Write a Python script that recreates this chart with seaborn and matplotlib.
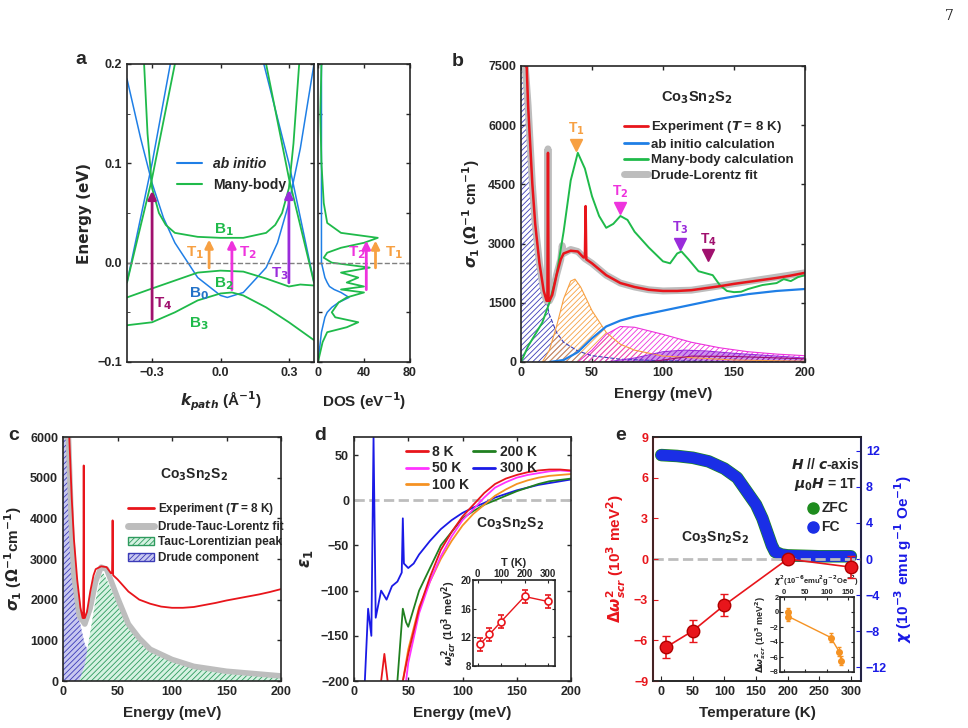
import numpy as np
import matplotlib
matplotlib.use("Agg")
import matplotlib.pyplot as plt
import seaborn as sns

sns.set_style("ticks")
plt.rcParams['font.family'] = ['Liberation Sans Narrow', 'Liberation Sans', 'DejaVu Sans']
plt.rcParams['font.weight'] = 'bold'
plt.rcParams['axes.labelweight'] = 'bold'
plt.rcParams['font.size'] = 9
plt.rcParams['hatch.linewidth'] = 0.6
plt.rcParams['axes.linewidth'] = 1.2
plt.rcParams['xtick.direction'] = 'in'
plt.rcParams['ytick.direction'] = 'in'

# ---------------- data: panel a ----------------
kB1 = [-0.335, -0.32, -0.3, -0.27, -0.24, -0.2, -0.1, 0.0, 0.1, 0.2, 0.24, 0.27, 0.3, 0.32, 0.345]
eB1 = [0.2, 0.13, 0.075, 0.05, 0.038, 0.03, 0.026, 0.025, 0.025, 0.03, 0.038, 0.05, 0.075, 0.12, 0.2]
kGL = [-0.41, -0.3, -0.2]
eGL = [-0.02, 0.085, 0.2]
kGR = [0.2, 0.3, 0.41]
eGR = [0.2, 0.085, -0.02]
kB2 = [-0.41, -0.3, -0.2, -0.1, 0.0, 0.1, 0.2, 0.3, 0.35, 0.41]
eB2 = [-0.035, -0.026, -0.018, -0.01, -0.008, -0.009, -0.016, -0.024, -0.022, -0.023]
kB3 = [-0.41, -0.3, -0.2, -0.1, 0.0, 0.05, 0.1, 0.2, 0.3, 0.41]
eB3 = [-0.063, -0.06, -0.05, -0.038, -0.031, -0.03, -0.033, -0.045, -0.06, -0.078]
kB0 = [-0.41, -0.35, -0.3, -0.25, -0.2, -0.1, 0.0, 0.03, 0.1, 0.2, 0.25, 0.3, 0.35, 0.41]
eB0 = [0.185, 0.125, 0.08, 0.045, 0.02, -0.015, -0.033, -0.035, -0.03, -0.005, 0.02, 0.06, 0.115, 0.2]
kBL = [-0.41, -0.3, -0.22]
eBL = [-0.02, 0.1, 0.2]
kBR = [0.19, 0.3, 0.41]
eBR = [0.2, 0.1, -0.02]
dos_E = [-0.1, -0.09, -0.08, -0.07, -0.065, -0.06, -0.055, -0.05, -0.045, -0.04, -0.035, -0.03, -0.027,
         -0.024, -0.02, -0.015, -0.01, -0.005, 0.0, 0.005, 0.01, 0.015, 0.02, 0.025, 0.03, 0.04, 0.06, 0.1, 0.15, 0.2]
dos_green = [0, 2, 4, 8, 25, 35, 15, 12, 15, 18, 25, 40, 20, 40, 25, 35, 20, 45, 12, 5, 8, 20, 40, 52, 20, 8, 5, 3, 2, 3]
dos_blue = [0, 1, 2, 3, 4, 5, 6, 8, 12, 18, 27, 20, 14, 10, 8, 6, 5, 4, 3, 3, 3, 3, 3, 3, 3, 3, 3, 3, 3, 3]

# ---------------- data: panel b/c ----------------
E_exp = [3, 4, 5, 8, 10, 13, 16, 18, 18.6, 19, 19.4, 20, 22, 25, 28, 30, 35, 40, 44, 45, 45.5, 46, 48, 50, 60, 70,
         80, 90, 100, 110, 120, 130, 140, 150, 160, 170, 180, 190, 200]
s_exp = [7500, 7500, 6500, 4500, 3500, 2500, 1800, 1550, 1550, 5300, 1550, 1550, 1700, 2200, 2600, 2750, 2820, 2800,
         2650, 2650, 3950, 2600, 2550, 2500, 2200, 2000, 1900, 1830, 1800, 1800, 1820, 1870, 1920, 1980, 2030, 2080,
         2130, 2190, 2260]
E_fit = [3, 5, 8, 10, 13, 16, 18, 18.6, 19, 19.4, 20, 22, 25, 28, 29, 30, 35, 40, 45, 50, 60, 70, 80, 90, 100,
         120, 140, 160, 180, 200]
s_fit = [7500, 6500, 4500, 3500, 2500, 1800, 1550, 1550, 5400, 1550, 1550, 1700, 2200, 2600, 2950, 2750, 2850, 2800,
         2620, 2500, 2200, 2000, 1900, 1830, 1800, 1820, 1930, 2040, 2150, 2260]
E_mb = [0, 5, 10, 15, 20, 25, 30, 35, 40, 45, 50, 55, 60, 65, 70, 75, 80, 90, 100, 105, 110, 113, 118, 125, 130,
        135, 140, 145, 150, 155, 160, 170, 180, 185, 190, 195, 200]
s_mb = [0, 400, 700, 1000, 1500, 2200, 3300, 4600, 5300, 4900, 4200, 3700, 3400, 3500, 3700, 3600, 3300, 2900,
        2550, 2500, 2750, 2800, 2600, 2300, 2250, 2200, 1950, 1800, 1770, 1780, 1850, 1950, 2000, 2100, 2050, 2150, 2200]
E_ai = [20, 30, 40, 50, 60, 70, 80, 100, 120, 140, 160, 180, 200]
s_ai = [0, 50, 250, 600, 900, 1050, 1150, 1300, 1450, 1600, 1720, 1800, 1850]
E_dr = [0, 3, 5, 8, 10, 15, 20, 25, 30, 40, 50, 70, 100, 150, 200]
s_dr = [7500, 7500, 6000, 4500, 3500, 2000, 1200, 750, 500, 280, 160, 70, 30, 10, 5]
E_l1 = [15, 20, 25, 30, 35, 38, 42, 50, 60, 70, 80, 100, 150, 200]
s_l1 = [0, 300, 900, 1600, 2050, 2100, 1900, 1300, 750, 450, 300, 150, 50, 20]
E_l2 = [40, 50, 60, 70, 80, 100, 120, 140, 160, 180, 200]
s_l2 = [0, 300, 700, 900, 880, 700, 500, 360, 260, 200, 160]
E_l3 = [60, 80, 100, 115, 130, 150, 180, 200]
s_l3 = [0, 100, 260, 300, 280, 220, 150, 100]
E_l4 = [90, 120, 150, 200]
s_l4 = [0, 150, 140, 80]
E_tl = [15, 20, 25, 30, 35, 37, 40, 50, 60, 70, 80, 100, 120, 150, 200]
s_tl = [0, 400, 1200, 2000, 2600, 2650, 2500, 1900, 1350, 1000, 750, 500, 350, 230, 120]
E_drc = [0, 3, 5, 8, 10, 15, 20, 30, 50, 100, 150, 200]
s_drc = [6000, 6000, 6000, 3500, 2500, 1500, 900, 450, 150, 30, 10, 5]
E_fitc = [3, 5, 8, 10, 15, 20, 25, 30, 35, 40, 50, 60, 70, 80, 100, 120, 150, 200]
s_fitc = [6000, 6000, 3600, 2600, 1600, 1400, 1800, 2450, 2800, 2750, 2050, 1400, 1050, 780, 530, 360, 240, 125]

# ---------------- data: panel d ----------------
E_8 = [25, 28, 31, 34, 45, 50, 60, 70, 80, 90, 100, 110, 120, 130, 140, 150, 160, 170, 180, 190, 200]
e_8 = [-200, -170, -200, np.nan, -200, -170, -120, -85, -55, -35, -18, -5, 8, 18, 24, 28, 31, 33, 34, 34, 33]
E_50 = [48, 50, 60, 70, 80, 90, 100, 110, 120, 130, 140, 150, 160, 170, 180, 190, 200]
e_50 = [-200, -180, -125, -90, -62, -40, -22, -10, 3, 14, 20, 25, 28, 30, 32, 33, 32]
E_100 = [45, 50, 60, 70, 80, 90, 100, 110, 120, 130, 140, 150, 160, 170, 180, 190, 200]
e_100 = [-200, -165, -118, -90, -65, -45, -28, -15, -5, 5, 12, 18, 22, 25, 27, 28, 29]
E_200 = [40, 45, 48, 50, 55, 60, 70, 80, 90, 100, 110, 120, 130, 140, 150, 160, 170, 180, 200]
e_200 = [-200, -120, -135, -140, -120, -100, -75, -50, -35, -20, -12, -5, 0, 5, 10, 14, 18, 21, 24]
E_300 = [10, 13, 16, 18, 20, 25, 30, 35, 40, 44, 45, 46, 50, 55, 60, 70, 80, 90, 100, 110, 120, 130, 140, 150,
         160, 170, 180, 190, 200]
e_300 = [-200, -120, -150, 70, -130, -100, -110, -95, -90, -80, -20, -70, -75, -70, -60, -45, -32, -22, -14, -8,
         -3, 3, 7, 11, 14, 17, 19, 21, 23]
T_ins = [8, 50, 100, 200, 300]
w_ins = [11, 12.4, 14.2, 17.7, 17]
w_err = [0.9, 0.9, 0.9, 0.9, 0.9]

# ---------------- data: panel e ----------------
T_e = [8, 50, 100, 200, 300]
dw_e = [-6.5, -5.3, -3.4, 0, -0.6]
dw_err = [0.8, 0.8, 0.8, 0.15, 0.8]
T_chi = [0, 25, 50, 75, 100, 120, 140, 150, 160, 170, 175, 180, 190, 200, 250, 300]
chi = [11.5, 11.4, 11.2, 10.8, 10, 9, 7, 6, 4.5, 2.5, 1.5, 0.8, 0.5, 0.4, 0.3, 0.3]
chi2_ins = [10, 10, 110, 130, 135]
dw_ins = [0, -0.6, -3.4, -5.3, -6.5]

RED, BLUE, GREEN, GRAY = '#e8151b', '#1f7fe6', '#1fba4a', '#bdbdbd'
ORANGE, MAG, PURP, DPURP = '#f7a042', '#ee33dd', '#9a2cdb', '#a0106e'

fig = plt.figure(figsize=(9.68, 7.28), dpi=100)


def ax_px(l, t, r, b):
    return fig.add_axes([l / 968, 1 - b / 728, (r - l) / 968, (b - t) / 728])


def line(ax, x, y, c, lw=1.4, **kw):
    sns.lineplot(x=x, y=y, ax=ax, color=c, lw=lw, estimator=None, sort=False, **kw)


def boxify(ax):
    ax.tick_params(top=True, right=True, labelsize=9, width=1, length=3)
    for s in ax.spines.values():
        s.set_visible(True)

# ---------------- panel a ----------------
a1 = ax_px(127, 64, 314, 362)
for kx, ey in [(kB0, eB0), (kBL, eBL), (kBR, eBR)]:
    line(a1, kx, ey, BLUE, lw=1.1)
for kx, ey in [(kB1, eB1), (kGL, eGL), (kGR, eGR), (kB2, eB2), (kB3, eB3)]:
    line(a1, kx, ey, GREEN, lw=1.3)
a1.axhline(0, color='gray', ls='--', lw=1)
for x, y0, y1, c in [(-0.3, -0.06, 0.075, DPURP), (-0.05, -0.008, 0.026, ORANGE),
                     (0.05, -0.03, 0.026, MAG), (0.3, -0.023, 0.076, PURP)]:
    a1.annotate('', xy=(x, y1), xytext=(x, y0),
                arrowprops=dict(arrowstyle='-|>', color=c, lw=2, mutation_scale=12))
for t, x, y, c in [('T$_1$', -0.15, 0.006, ORANGE), ('T$_2$', 0.08, 0.006, MAG), ('T$_3$', 0.22, -0.015, PURP),
                   ('T$_4$', -0.29, -0.045, DPURP), ('B$_1$', -0.03, 0.03, GREEN), ('B$_2$', -0.03, -0.025, GREEN),
                   ('B$_0$', -0.14, -0.035, '#2272c8'), ('B$_3$', -0.14, -0.065, GREEN)]:
    a1.text(x, y, t, color=c, fontsize=11, fontweight='bold')
a1.plot([], [], color=BLUE, lw=1.5, label='ab initio')
a1.plot([], [], color=GREEN, lw=1.5, label='Many-body')
leg = a1.legend(loc='upper left', bbox_to_anchor=(0.2, 0.73), frameon=False, fontsize=10, handlelength=1.8)
leg.get_texts()[0].set_style('italic')
a1.set_xlim(-0.41, 0.41)
a1.set_ylim(-0.1, 0.2)
a1.set_xticks([-0.3, 0.0, 0.3])
a1.set_yticks([-0.1, 0.0, 0.1, 0.2])
a1.set_yticks([-0.05, 0.05, 0.15], minor=True)
a1.set_xlabel('$\\boldsymbol{k_{path}}$ (Å$^{-1}$)', fontsize=11, labelpad=8)
a1.set_ylabel('Energy (eV)', fontsize=11, family='DejaVu Sans')
boxify(a1)

a2 = ax_px(318, 64, 410, 362)
line(a2, dos_blue, dos_E, BLUE, lw=1.1)
line(a2, dos_green, dos_E, GREEN, lw=1.3)
a2.axhline(0, color='gray', ls='--', lw=1)
for x, y0, y1, c in [(42, -0.03, 0.025, MAG), (50, -0.008, 0.025, ORANGE)]:
    a2.annotate('', xy=(x, y1), xytext=(x, y0),
                arrowprops=dict(arrowstyle='-|>', color=c, lw=2, mutation_scale=12))
a2.text(26, 0.006, 'T$_2$', color=MAG, fontsize=11, fontweight='bold')
a2.text(58, 0.006, 'T$_1$', color=ORANGE, fontsize=11, fontweight='bold')
a2.set_xlim(0, 80)
a2.set_ylim(-0.1, 0.2)
a2.set_xticks([0, 40, 80])
a2.set_yticks([-0.1, -0.05, 0, 0.05, 0.1, 0.15, 0.2])
a2.set_yticklabels([])
a2.set_xlabel('DOS (eV$^{-1}$)', fontsize=11, labelpad=8)
boxify(a2)
fig.text(75 / 968, 1 - 64 / 728, 'a', fontsize=14, fontweight='bold')

# ---------------- panel b ----------------
b = ax_px(521, 66, 805, 362)
for x, y, c in [(E_dr, s_dr, '#3b3bb8'), (E_l1, s_l1, ORANGE), (E_l2, s_l2, MAG), (E_l3, s_l3, PURP),
                (E_l4, s_l4, DPURP)]:
    b.fill_between(x, 0, y, facecolor='none', edgecolor=c, hatch='//////', lw=0)
    line(b, x, y, c, lw=0.8, ls='--' if c == '#3b3bb8' else '-')
b.fill_between(E_l3, 0, s_l3, color=PURP, alpha=0.5, lw=0)
line(b, E_fit, s_fit, GRAY, lw=5)
line(b, E_ai, s_ai, BLUE, lw=1.6)
line(b, E_mb, s_mb, GREEN, lw=1.4)
line(b, E_exp, s_exp, RED, lw=1.8)
for t, x, y, c in [('T$_1$', 39, 5500, ORANGE), ('T$_2$', 70, 3900, MAG), ('T$_3$', 112, 3000, PURP),
                   ('T$_4$', 132, 2700, DPURP)]:
    b.plot(x, y, marker='v', color=c, ms=8)
    b.text(x, y + 200, t, color=c, fontsize=10, ha='center', va='bottom', fontweight='bold')
b.plot([], [], color=RED, lw=2, label='Experiment ($\\boldsymbol{T}$ = 8 K)')
b.plot([], [], color=BLUE, lw=2, label='ab initio calculation')
b.plot([], [], color=GREEN, lw=2, label='Many-body calculation')
b.plot([], [], color=GRAY, lw=5, label='Drude-Lorentz fit')
leg = b.legend(loc='upper left', bbox_to_anchor=(0.32, 0.86), frameon=False, fontsize=9.5, handlelength=1.8,
               labelspacing=0.25, handletextpad=0.3)
b.text(0.62, 0.88, 'Co$_3$Sn$_2$S$_2$', transform=b.transAxes, fontsize=10.5, fontweight='bold', ha='center')
b.set_xlim(0, 200)
b.set_ylim(0, 7500)
b.set_xticks([0, 50, 100, 150, 200])
b.set_yticks([0, 1500, 3000, 4500, 6000, 7500])
b.set_xlabel('Energy (meV)', fontsize=11, labelpad=6)
b.set_ylabel('$\\sigma_1$ ($\\Omega^{-1}$ cm$^{-1}$)', fontsize=11)
boxify(b)
fig.text(452 / 968, 1 - 66 / 728, 'b', fontsize=14, fontweight='bold')

# ---------------- panel c ----------------
c = ax_px(63, 437, 281, 681)
c.fill_between(E_drc, 0, s_drc, facecolor='#c8c8f0', edgecolor='#3b3bb8', hatch='//////', lw=0)
c.fill_between(E_tl, 0, s_tl, facecolor='#d6f2e2', edgecolor='#2e9b5e', hatch='//////', lw=0)
line(c, E_fitc, s_fitc, GRAY, lw=4)
line(c, E_exp, s_exp, RED, lw=1.3)
c.plot([], [], color=RED, lw=2, label='Experiment ($\\boldsymbol{T}$ = 8 K)')
c.plot([], [], color=GRAY, lw=5, label='Drude-Tauc-Lorentz fit')
c.fill_between([], [], facecolor='#d6f2e2', edgecolor='#2e9b5e', hatch='//////', label='Tauc-Lorentizian peak')
c.fill_between([], [], facecolor='#c8c8f0', edgecolor='#3b3bb8', hatch='//////', label='Drude component')
c.legend(loc='upper left', bbox_to_anchor=(0.25, 0.78), frameon=False, fontsize=8.5, handlelength=2.2,
         labelspacing=0.3, handletextpad=0.3)
c.text(0.6, 0.83, 'Co$_3$Sn$_2$S$_2$', transform=c.transAxes, fontsize=10, fontweight='bold', ha='center')
c.set_xlim(0, 200)
c.set_ylim(0, 6000)
c.set_xticks([0, 50, 100, 150, 200])
c.set_yticks(range(0, 6001, 1000))
c.set_xlabel('Energy (meV)', fontsize=11, labelpad=6)
c.set_ylabel('$\\sigma_1$ ($\\Omega^{-1}$cm$^{-1}$)', fontsize=11)
boxify(c)
fig.text(8 / 968, 1 - 440 / 728, 'c', fontsize=14, fontweight='bold')

# ---------------- panel d ----------------
d = ax_px(354, 437, 571, 681)
d.axhline(0, color=GRAY, ls='--', lw=2)
for x, y, col in [(E_300, e_300, '#1a1ae6'), (E_200, e_200, '#208020'), (E_100, e_100, '#f59222'),
                  (E_50, e_50, '#ff33ff'), (E_8, e_8, RED)]:
    d.plot(x, y, color=col, lw=1.3)
hs = []
for col, lab in [(RED, '8 K'), ('#ff33ff', '50 K'), ('#f59222', '100 K'), ('#208020', '200 K'),
                 ('#1a1ae6', '300 K')]:
    h, = d.plot([], [], color=col, lw=2, label=lab)
    hs.append(h)
d.legend(handles=hs, ncol=2, loc='upper left', bbox_to_anchor=(0.18, 1.02), frameon=False, fontsize=10,
         handlelength=1.6, columnspacing=0.3, labelspacing=0.2, handletextpad=0.3)
d.text(0.72, 0.63, 'Co$_3$Sn$_2$S$_2$', transform=d.transAxes, fontsize=10, fontweight='bold', ha='center')
d.set_xlim(0, 200)
d.set_ylim(-200, 70)
d.set_xticks([0, 50, 100, 150, 200])
d.set_yticks([-200, -150, -100, -50, 0, 50])
d.set_xlabel('Energy (meV)', fontsize=11, labelpad=6)
d.set_ylabel('$\\boldsymbol{\\epsilon}_1$', fontsize=12)
boxify(d)
fig.text(314 / 968, 1 - 440 / 728, 'd', fontsize=14, fontweight='bold')

di = ax_px(473, 580, 555, 666)
di.errorbar(T_ins, w_ins, yerr=w_err, color=RED, marker='o', ms=5, mfc='white', mew=1.2, capsize=2, lw=1)
di.set_xlim(-20, 330)
di.set_ylim(8, 20)
di.set_xticks([0, 100, 200, 300])
di.set_yticks([8, 12, 16, 20])
di.xaxis.tick_top()
di.xaxis.set_label_position('top')
di.set_xlabel('T (K)', fontsize=8, labelpad=2)
di.set_ylabel('$\\omega^2_{scr}$ (10$^3$ meV$^2$)', fontsize=8, labelpad=1)
di.tick_params(labelsize=7, length=2, bottom=True, right=True, pad=1)
for s in di.spines.values():
    s.set_visible(True)

# ---------------- panel e ----------------
e = ax_px(653, 437, 861, 681)
e2 = e.twinx()
e2.plot(T_chi, chi, color='#1e8c1e', lw=9, solid_capstyle='round')
sns.lineplot(x=T_chi, y=chi, ax=e2, color='#1a2ee6', lw=8, estimator=None, sort=False)
e2.set_ylim(-13.5, 13.5)
e2.set_yticks([-12, -8, -4, 0, 4, 8, 12])
e2.set_ylabel('$\\boldsymbol{\\chi}$ (10$^{-3}$ emu g$^{-1}$ Oe$^{-1}$)', fontsize=11, color='#1a1ae6')
e2.tick_params(axis='y', colors='#1a1ae6', labelsize=9, direction='in')
e2.spines['right'].set_color('#1a1ae6')
e2.spines['right'].set_linewidth(1.5)
e2.spines['left'].set_color(RED)
e2.spines['left'].set_linewidth(1.5)
e.axhline(0, color=GRAY, ls='--', lw=2, zorder=0)
e.errorbar(T_e, dw_e, yerr=dw_err, color=RED, marker='o', ms=9, mfc=RED, mec='#b00000', capsize=3, lw=1.2,
           zorder=5)
e.set_zorder(e2.get_zorder() + 1)
e.patch.set_visible(False)
e.set_xlim(-13, 316)
e.set_ylim(-9, 9)
e.set_yticks([-9, -6, -3, 0, 3, 6, 9])
e.set_xticks([0, 50, 100, 150, 200, 250, 300])
e.tick_params(axis='y', colors=RED, labelsize=9, direction='in')
e.tick_params(axis='x', labelsize=9, direction='in')
e.set_xlabel('Temperature (K)', fontsize=11, labelpad=6)
e.set_ylabel('$\\Delta\\omega^2_{scr}$ (10$^3$ meV$^2$)', fontsize=11, color=RED)
e.text(0.3, 0.57, 'Co$_3$Sn$_2$S$_2$', transform=e.transAxes, fontsize=10, fontweight='bold', ha='center')
e.text(0.83, 0.87, '$\\boldsymbol{H}$ // $\\boldsymbol{c}$-axis', transform=e.transAxes, fontsize=10, ha='center')
e.text(0.83, 0.79, '$\\boldsymbol{\\mu_0 H}$ = 1T', transform=e.transAxes, fontsize=10, ha='center')
e.plot(0.77, 0.71, 'o', ms=8, color='#1e8c1e', transform=e.transAxes)
e.text(0.81, 0.71, 'ZFC', transform=e.transAxes, fontsize=10, va='center')
e.plot(0.77, 0.63, 'o', ms=8, color='#1a2ee6', transform=e.transAxes)
e.text(0.81, 0.63, 'FC', transform=e.transAxes, fontsize=10, va='center')
fig.text(615 / 968, 1 - 440 / 728, 'e', fontsize=14, fontweight='bold')

ei = ax_px(780, 597, 854, 672)
ei.plot(chi2_ins, dw_ins, color='#f59222', marker='o', ms=4, lw=1)
ei.errorbar(chi2_ins, dw_ins, yerr=[0.6] * 5, fmt='none', ecolor='#f59222', capsize=1.5, lw=1)
ei.set_xlim(-10, 165)
ei.set_ylim(-8, 2)
ei.set_xticks([0, 50, 100, 150])
ei.set_yticks([-8, -6, -4, -2, 0, 2])
ei.xaxis.tick_top()
ei.xaxis.set_label_position('top')
ei.set_xlabel('$\\chi^2$(10$^{-6}$emu$^2$g$^{-2}$Oe$^{-2}$)', fontsize=5.5, labelpad=3)
ei.set_ylabel('$\\Delta\\omega^2_{scr}$ (10$^3$ meV$^2$)', fontsize=6.5, labelpad=1)
ei.tick_params(labelsize=5.5, length=2, bottom=True, right=True, pad=1)
for s in ei.spines.values():
    s.set_visible(True)

fig.text(945 / 968, 1 - 20 / 728, '7', fontsize=10, family='DejaVu Serif', fontweight='normal')
fig.savefig('out.png', dpi=100)
